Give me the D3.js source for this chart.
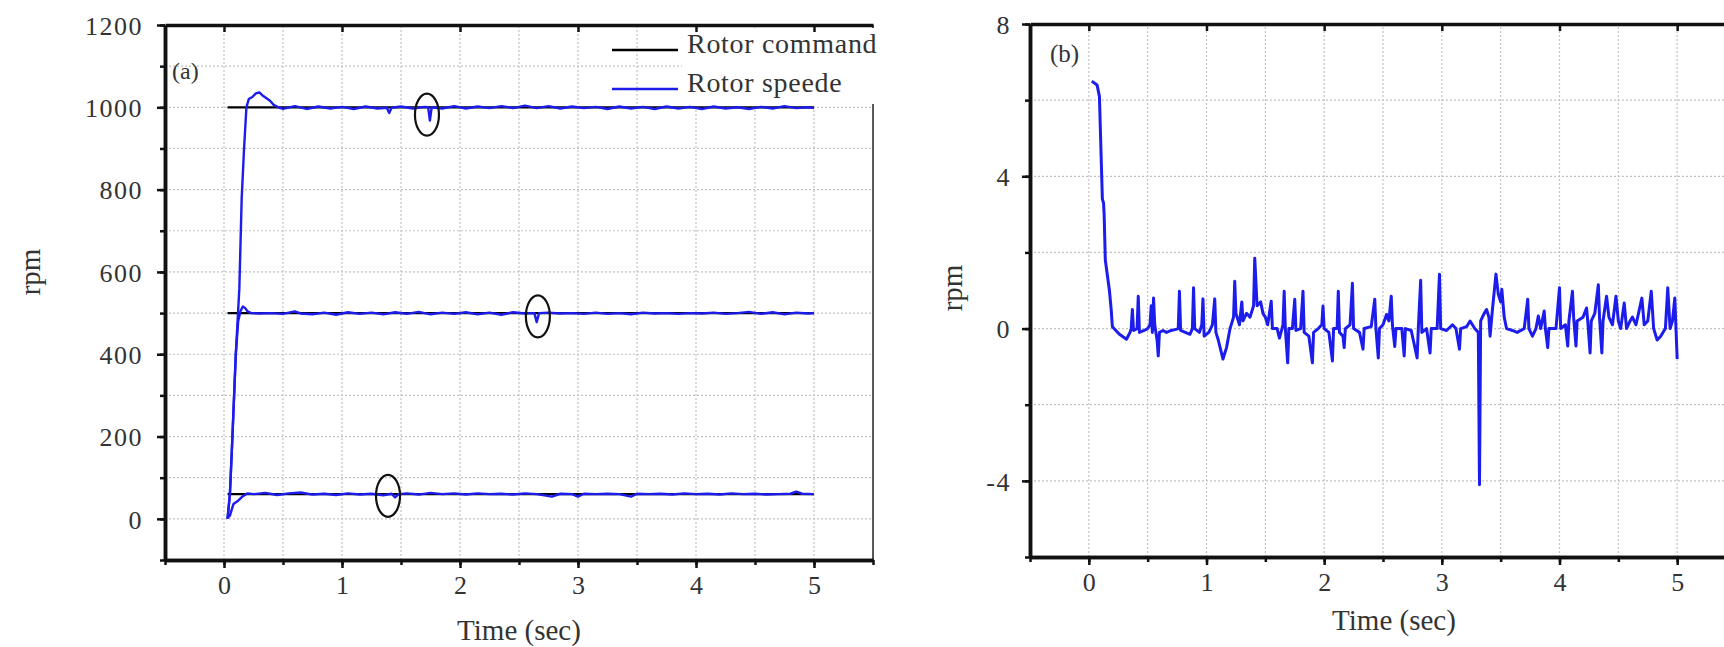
<!DOCTYPE html>
<html>
<head>
<meta charset="utf-8">
<script src="https://cdn.jsdelivr.net/npm/d3@7"></script>
<style>
  body { margin: 0; background: #fff; }
  .grid line { stroke: #c2c2c2; stroke-width: 1.2; stroke-dasharray: 2,2; }
  .axis path.domain { stroke: #111; stroke-width: 3.5; }
  .axis .tick line { stroke: #111; stroke-width: 2.5; }
  .axis text { fill: #333; font-family: "Liberation Serif", "Times New Roman", serif; }
  .label { fill: #333; font-family: "Liberation Serif", "Times New Roman", serif; }
</style>
</head>
<body>
<script>
const width = 1724,
  height = 647,
  serif = '"Liberation Serif", "Times New Roman", serif',
  blue = "#1c1cec";

// ---- data ----
const timeTicks = [0, 1, 2, 3, 4, 5];
const rpmTicksA = [0, 200, 400, 600, 800, 1000, 1200];
const rpmTicksB = [-4, 0, 4, 8];
const commandLevels = [1000, 500, 60];
const commandSpan = [0.03, 5.0];
const legendLabels = ["Rotor command", "Rotor speede"];
const circled = [[1.72, 982], [2.66, 492], [1.39, 56]];

const speed1000 = [
  [0.03, 0], [0.05, 60], [0.07, 190], [0.1, 400], [0.13, 560], [0.15, 780], [0.17, 900],
  [0.19, 1000], [0.21, 1020], [0.24, 1025], [0.27, 1034], [0.3, 1036], [0.33, 1028],
  [0.36, 1022], [0.39, 1016], [0.42, 1006], [0.46, 1000], [0.5, 996], [0.6, 1003],
  [0.7, 996], [0.8, 1002], [0.9, 997], [1.0, 1001], [1.1, 996], [1.2, 1002], [1.3, 997],
  [1.38, 999], [1.4, 986], [1.42, 999], [1.5, 1002], [1.6, 997], [1.7, 1001], [1.73, 1000],
  [1.745, 968], [1.76, 1000], [1.85, 997], [1.95, 1003], [2.05, 997], [2.15, 1002],
  [2.25, 998], [2.35, 1003], [2.45, 998], [2.55, 1004], [2.65, 998], [2.75, 1003],
  [2.85, 997], [2.95, 1002], [3.05, 998], [3.15, 1001], [3.25, 996], [3.35, 1002],
  [3.45, 997], [3.55, 1001], [3.65, 996], [3.75, 1002], [3.85, 997], [3.95, 1001],
  [4.05, 996], [4.15, 1002], [4.25, 997], [4.35, 1000], [4.45, 996], [4.55, 1001],
  [4.65, 997], [4.75, 1003], [4.85, 998], [4.95, 1000], [5.0, 998]
];

const speed500 = [
  [0.03, 0], [0.05, 60], [0.07, 190], [0.1, 400], [0.12, 480], [0.14, 505], [0.16, 516],
  [0.18, 512], [0.2, 504], [0.23, 500], [0.3, 499], [0.4, 500], [0.5, 498], [0.6, 504],
  [0.65, 499], [0.75, 497], [0.85, 501], [0.95, 496], [1.05, 502], [1.15, 498],
  [1.25, 501], [1.35, 497], [1.45, 502], [1.55, 498], [1.65, 503], [1.75, 497],
  [1.85, 501], [1.95, 498], [2.05, 502], [2.15, 497], [2.25, 501], [2.35, 496],
  [2.45, 502], [2.55, 499], [2.63, 500], [2.65, 478], [2.67, 500], [2.75, 501],
  [2.85, 499], [2.95, 500], [3.05, 498], [3.15, 501], [3.25, 498], [3.35, 500],
  [3.45, 497], [3.55, 501], [3.65, 499], [3.75, 500], [3.85, 498], [3.95, 500],
  [4.05, 499], [4.15, 501], [4.25, 498], [4.35, 500], [4.45, 503], [4.55, 498],
  [4.65, 502], [4.75, 497], [4.85, 501], [4.95, 499], [5.0, 500]
];

const speed60 = [
  [0.03, 2], [0.05, 8], [0.08, 36], [0.12, 44], [0.16, 55], [0.2, 62], [0.25, 60],
  [0.35, 63], [0.45, 58], [0.55, 62], [0.65, 64], [0.75, 59], [0.85, 61], [0.95, 58],
  [1.05, 62], [1.15, 59], [1.25, 61], [1.35, 57], [1.42, 61], [1.45, 52], [1.48, 60],
  [1.55, 62], [1.65, 59], [1.75, 63], [1.85, 60], [1.95, 62], [2.05, 59], [2.15, 62],
  [2.25, 60], [2.35, 61], [2.45, 59], [2.55, 62], [2.65, 60], [2.78, 54], [2.85, 61],
  [2.95, 60], [3.0, 54], [3.05, 61], [3.15, 60], [3.25, 61], [3.35, 60], [3.45, 54],
  [3.5, 61], [3.6, 60], [3.7, 61], [3.8, 59], [3.9, 62], [4.0, 60], [4.1, 61],
  [4.2, 59], [4.3, 62], [4.4, 60], [4.5, 61], [4.6, 59], [4.7, 60], [4.8, 61],
  [4.85, 66], [4.9, 61], [5.0, 60]
];

const speedError = [
  [0.025, 6.5], [0.07, 6.4], [0.09, 6.1], [0.115, 3.4], [0.125, 3.3], [0.13, 3.0],
  [0.14, 1.8], [0.175, 1.0], [0.19, 0.5], [0.2, 0.05], [0.26, -0.15], [0.32, -0.28],
  [0.35, -0.1], [0.36, 0.0], [0.37, 0.5], [0.38, -0.05], [0.41, 0.0], [0.42, 0.85],
  [0.43, -0.1], [0.47, -0.05], [0.5, 0.0], [0.52, 0.1], [0.53, 0.6], [0.54, -0.1],
  [0.55, 0.8], [0.56, 0.1], [0.58, -0.3], [0.59, -0.72], [0.6, -0.1], [0.63, -0.05],
  [0.66, -0.1], [0.7, -0.05], [0.74, -0.02], [0.76, 0.0], [0.77, 0.98], [0.78, -0.05],
  [0.82, -0.1], [0.86, -0.15], [0.88, 0.0], [0.89, 1.07], [0.9, 0.0], [0.94, -0.1],
  [0.96, 0.1], [0.97, 0.78], [0.98, -0.2], [1.02, -0.1], [1.05, 0.1], [1.07, 0.78],
  [1.08, -0.1], [1.1, -0.3], [1.14, -0.8], [1.17, -0.5], [1.2, 0.0], [1.23, 0.3],
  [1.24, 1.24], [1.25, 0.4], [1.28, 0.1], [1.3, 0.7], [1.31, 0.2], [1.34, 0.4],
  [1.37, 0.3], [1.4, 0.6], [1.41, 1.85], [1.43, 0.6], [1.46, 0.7], [1.48, 0.4],
  [1.5, 0.3], [1.52, 0.1], [1.55, 0.72], [1.56, 0.0], [1.6, 0.0], [1.62, -0.25],
  [1.65, 0.1], [1.66, 0.98], [1.67, 0.0], [1.69, -0.9], [1.7, 0.0], [1.73, 0.0],
  [1.75, 0.77], [1.76, -0.05], [1.8, 0.0], [1.82, 0.98], [1.83, -0.1], [1.87, -0.2],
  [1.9, -0.9], [1.91, -0.1], [1.95, 0.0], [1.98, 0.1], [1.99, 0.59], [2.0, 0.0],
  [2.04, -0.1], [2.07, -0.85], [2.08, 0.0], [2.11, 0.0], [2.12, 0.98], [2.13, -0.1],
  [2.16, -0.2], [2.17, -0.5], [2.18, 0.0], [2.22, 0.1], [2.24, 1.19], [2.25, 0.0],
  [2.3, -0.1], [2.33, -0.54], [2.34, 0.0], [2.4, 0.05], [2.43, 0.77], [2.44, 0.0],
  [2.46, -0.77], [2.47, 0.0], [2.5, 0.1], [2.53, 0.37], [2.55, 0.2], [2.57, 0.85],
  [2.58, 0.1], [2.6, -0.47], [2.61, 0.0], [2.66, 0.0], [2.68, -0.72], [2.69, 0.0],
  [2.74, -0.05], [2.79, -0.77], [2.8, 0.0], [2.82, 1.27], [2.83, -0.1], [2.87, 0.0],
  [2.9, -0.64], [2.91, 0.0], [2.96, 0.0], [2.98, 1.43], [2.99, 0.0], [3.04, -0.05],
  [3.09, 0.1], [3.12, 0.0], [3.15, -0.54], [3.16, 0.0], [3.21, 0.05], [3.24, 0.2],
  [3.28, 0.0], [3.31, -0.1], [3.32, -4.1], [3.33, 0.2], [3.36, 0.4], [3.38, 0.5],
  [3.4, 0.3], [3.41, -0.2], [3.43, 0.5], [3.46, 1.43], [3.48, 0.9], [3.5, 0.7],
  [3.51, 1.03], [3.53, 0.3], [3.55, 0.0], [3.6, -0.05], [3.64, -0.1], [3.7, 0.0],
  [3.73, 0.77], [3.74, 0.0], [3.77, -0.2], [3.8, 0.0], [3.82, 0.33], [3.84, 0.0],
  [3.87, 0.46], [3.88, 0.0], [3.9, -0.5], [3.91, 0.0], [3.97, 0.0], [4.0, 1.07],
  [4.01, 0.0], [4.05, 0.1], [4.07, -0.46], [4.08, 0.2], [4.11, 0.98], [4.12, 0.3],
  [4.14, -0.46], [4.15, 0.2], [4.2, 0.3], [4.23, 0.54], [4.24, 0.2], [4.26, -0.64],
  [4.27, 0.2], [4.3, 0.4], [4.33, 1.15], [4.34, 0.3], [4.36, -0.64], [4.37, 0.2],
  [4.4, 0.85], [4.42, 0.3], [4.45, 0.1], [4.48, 0.85], [4.5, 0.2], [4.52, 0.0],
  [4.55, 0.67], [4.57, 0.0], [4.6, 0.2], [4.62, 0.3], [4.65, 0.1], [4.7, 0.8],
  [4.72, 0.1], [4.75, 0.2], [4.78, 0.98], [4.8, 0.0], [4.83, -0.3], [4.86, -0.2],
  [4.9, 0.0], [4.92, 1.07], [4.94, 0.0], [4.96, 0.2], [4.98, 0.8], [4.99, 0.0],
  [5.0, -0.8]
];

// ---- scales ----
const xA = d3.scaleLinear().domain([-0.5, 5.5]).range([165, 873]);
const yA = d3.scaleLinear().domain([-100, 1200]).range([560, 25]);
const xB = d3.scaleLinear().domain([-0.5, 5.5]).range([1030, 1736]);
const yB = d3.scaleLinear().domain([-6, 8]).range([557, 24]);

const svg = d3
  .select("body")
  .append("svg")
  .attr("width", width)
  .attr("height", height);

// dotted grid at every minor step
function drawGrid(x, y, xs, ys) {
  const g = svg.append("g").attr("class", "grid");
  g.selectAll("line.v")
    .data(xs)
    .enter()
    .append("line")
    .attr("x1", x)
    .attr("x2", x)
    .attr("y1", y.range()[0])
    .attr("y2", y.range()[1]);
  g.selectAll("line.h")
    .data(ys)
    .enter()
    .append("line")
    .attr("x1", x.range()[0])
    .attr("x2", x.range()[1])
    .attr("y1", y)
    .attr("y2", y);
}

// left/bottom axes with labels, top axis with inward ticks
function drawAxes(x, y, majorX, minorX, majorY, minorY, yPad) {
  const left = x.range()[0],
    bottom = y.range()[0],
    top = y.range()[1];

  svg.append("g").attr("class", "axis")
    .attr("transform", `translate(${left},0)`)
    .call(d3.axisLeft(y).tickValues(minorY).tickSize(5).tickSizeOuter(0).tickFormat(""));

  const yAxis = svg.append("g").attr("class", "axis")
    .attr("transform", `translate(${left},0)`)
    .call(d3.axisLeft(y).tickValues(majorY).tickSize(8).tickSizeOuter(0)
      .tickPadding(yPad).tickFormat((d) => String(d)))
    .attr("font-size", 26)
    .attr("font-family", serif);
  yAxis.selectAll("text").attr("letter-spacing", "1.5px").attr("dy", "0.36em");

  svg.append("g").attr("class", "axis")
    .attr("transform", `translate(0,${bottom})`)
    .call(d3.axisBottom(x).tickValues(minorX).tickSize(5).tickSizeOuter(0).tickFormat(""));

  svg.append("g").attr("class", "axis")
    .attr("transform", `translate(0,${bottom})`)
    .call(d3.axisBottom(x).tickValues(majorX).tickSize(8).tickSizeOuter(0)
      .tickPadding(8).tickFormat((d) => String(d)))
    .attr("font-size", 26)
    .attr("font-family", serif);

  svg.append("g").attr("class", "axis")
    .attr("transform", `translate(0,${top})`)
    .call(d3.axisTop(x).tickValues(majorX).tickSize(-7).tickSizeOuter(0).tickFormat(""));
}

const halfSteps = d3.range(0, 5.01, 0.5);

// ================= panel (a) =================
drawGrid(xA, yA, halfSteps, d3.range(0, 1101, 100));

// thin right border
svg.append("line")
  .attr("x1", xA(5.5)).attr("x2", xA(5.5))
  .attr("y1", yA(-100)).attr("y2", yA(1200))
  .attr("stroke", "#222").attr("stroke-width", 1.5);

// legend backdrop
svg.append("rect")
  .attr("x", 682).attr("y", 28).attr("width", 200).attr("height", 76)
  .attr("fill", "#fff");

const lineA = d3.line().x((d) => xA(d[0])).y((d) => yA(d[1]));

svg.selectAll("path.command")
  .data(commandLevels)
  .enter()
  .append("path")
  .attr("class", "command")
  .attr("d", (v) => lineA(commandSpan.map((t) => [t, v])))
  .attr("fill", "none")
  .attr("stroke", "#000")
  .attr("stroke-width", 2.2);

svg.selectAll("path.speed")
  .data([speed60, speed500, speed1000])
  .enter()
  .append("path")
  .attr("class", "speed")
  .attr("d", lineA)
  .attr("fill", "none")
  .attr("stroke", blue)
  .attr("stroke-width", 2.4)
  .attr("stroke-linejoin", "round");

svg.selectAll("ellipse.mark")
  .data(circled)
  .enter()
  .append("ellipse")
  .attr("class", "mark")
  .attr("cx", (d) => xA(d[0]))
  .attr("cy", (d) => yA(d[1]))
  .attr("rx", 12)
  .attr("ry", 21)
  .attr("fill", "none")
  .attr("stroke", "#111")
  .attr("stroke-width", 2.2);

drawAxes(xA, yA, timeTicks, halfSteps.concat([-0.5, 5.5]), rpmTicksA,
  d3.range(-100, 1201, 100), 14);

// legend
const legend = svg.selectAll("g.legend")
  .data(legendLabels)
  .enter()
  .append("g")
  .attr("class", "legend")
  .attr("transform", (d, i) => `translate(612,${50 + i * 39})`);
legend.append("line")
  .attr("x1", 0).attr("x2", 66)
  .attr("stroke", (d, i) => (i === 0 ? "#000" : blue))
  .attr("stroke-width", 2.4);
legend.append("text")
  .attr("class", "label")
  .attr("x", 75)
  .attr("y", 3)
  .attr("font-size", 28)
  .attr("letter-spacing", "0.7px")
  .text((d) => d);

svg.append("text").attr("class", "label")
  .attr("x", 172).attr("y", 79).attr("font-size", 24).text("(a)");

svg.append("text").attr("class", "label")
  .attr("transform", "translate(30,272) rotate(-90)")
  .attr("text-anchor", "middle").attr("dy", "0.35em")
  .attr("font-size", 29).text("rpm");

svg.append("text").attr("class", "label")
  .attr("x", 519).attr("y", 640)
  .attr("text-anchor", "middle").attr("font-size", 29).text("Time (sec)");

// ================= panel (b) =================
drawGrid(xB, yB, halfSteps, d3.range(-4, 7, 2));

const lineB = d3.line().x((d) => xB(d[0])).y((d) => yB(d[1]));

svg.append("path")
  .datum(speedError)
  .attr("d", lineB)
  .attr("fill", "none")
  .attr("stroke", blue)
  .attr("stroke-width", 3)
  .attr("stroke-linejoin", "round");

drawAxes(xB, yB, timeTicks, halfSteps.concat([-0.5]), rpmTicksB,
  d3.range(-6, 8.1, 2), 11);

svg.append("text").attr("class", "label")
  .attr("x", 1050).attr("y", 62).attr("font-size", 25).text("(b)");

svg.append("text").attr("class", "label")
  .attr("transform", "translate(952,288) rotate(-90)")
  .attr("text-anchor", "middle").attr("dy", "0.35em")
  .attr("font-size", 29).text("rpm");

svg.append("text").attr("class", "label")
  .attr("x", 1394).attr("y", 630)
  .attr("text-anchor", "middle").attr("font-size", 29).text("Time (sec)");
</script>
</body>
</html>
